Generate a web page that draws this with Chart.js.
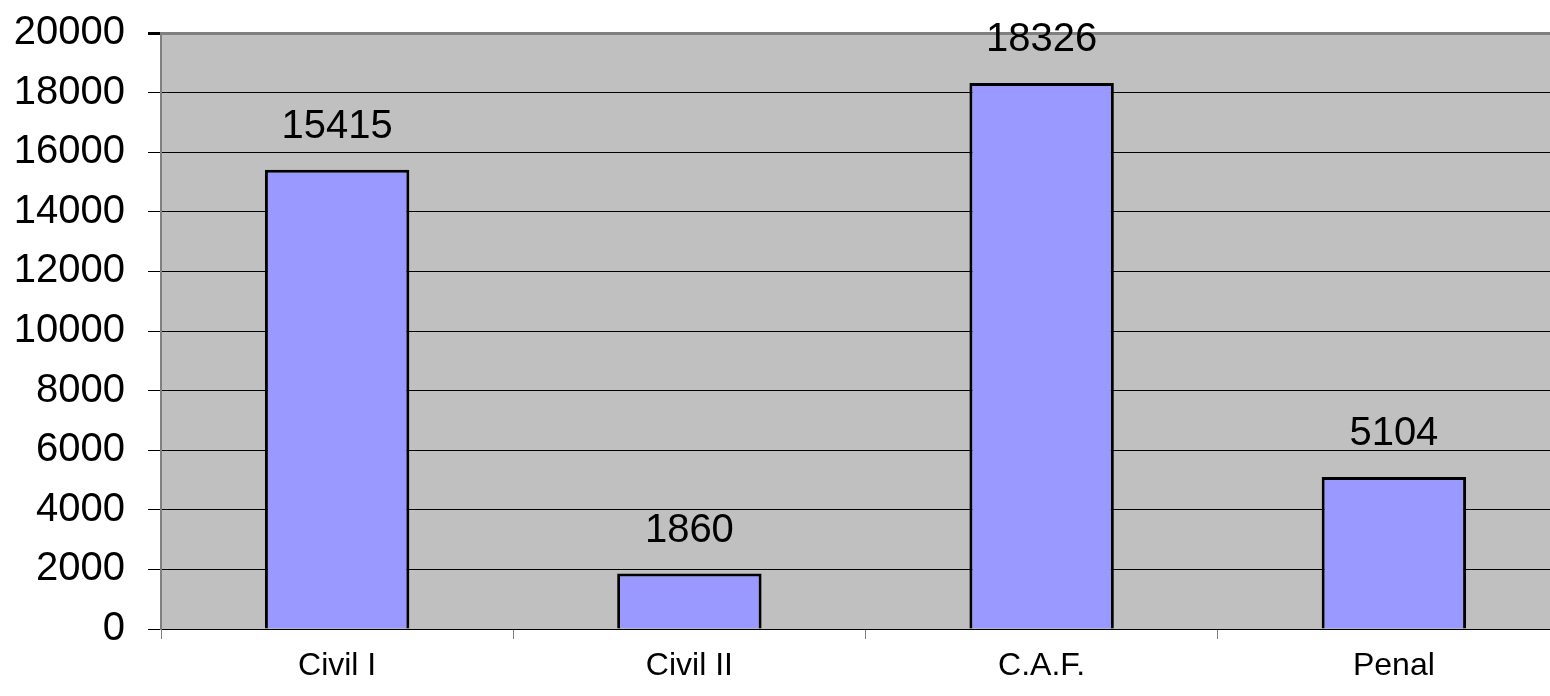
<!DOCTYPE html>
<html>
<head>
<meta charset="utf-8">
<script src="https://cdn.jsdelivr.net/npm/chart.js@4/dist/chart.umd.min.js"></script>
<style>
  html, body { margin: 0; padding: 0; background: #fff; overflow: hidden; }
  #wrap { width: 1550px; height: 696px; overflow: hidden; }
</style>
</head>
<body>
<div id="wrap"><canvas id="chart" width="1570" height="696"></canvas></div>
<script>
const categories = ["Civil I", "Civil II", "C.A.F.", "Penal"];
const values = [15415, 1860, 18326, 5104];
const yTicks = [0, 2000, 4000, 6000, 8000, 10000, 12000, 14000, 16000, 18000, 20000];

const FONT = "'Liberation Sans', Arial, sans-serif";

// grey plot area background
const plotBg = {
  id: "plotBg",
  beforeDraw(chart) {
    const { ctx, chartArea: a } = chart;
    ctx.save();
    ctx.fillStyle = "#c0c0c0";
    ctx.fillRect(a.left, a.top, a.right - a.left, a.bottom - a.top);
    ctx.restore();
  }
};

// value labels above bars
const valueLabels = {
  id: "valueLabels",
  afterDatasetsDraw(chart) {
    const ctx = chart.ctx;
    const meta = chart.getDatasetMeta(0);
    ctx.save();
    ctx.font = "40px " + FONT;
    ctx.fillStyle = "#000";
    ctx.textAlign = "center";
    ctx.textBaseline = "alphabetic";
    meta.data.forEach((bar, i) => {
      ctx.fillText(String(values[i]), bar.x, bar.y - 32);
    });
    ctx.restore();
  }
};

new Chart(document.getElementById("chart"), {
  type: "bar",
  data: {
    labels: categories,
    datasets: [{
      data: values,
      backgroundColor: "#9999ff",
      borderColor: "#000",
      borderWidth: 3,
      barPercentage: 0.41,
      categoryPercentage: 1
    }]
  },
  options: {
    responsive: false,
    animation: false,
    layout: { padding: { top: 33, right: 0, left: 0, bottom: 0 } },
    plugins: { legend: { display: false }, tooltip: { enabled: false } },
    scales: {
      x: {
        offset: true,
        grid: {
          offset: true,
          drawOnChartArea: false,
          drawTicks: true,
          tickLength: 10,
          tickColor: "#808080",
          lineWidth: 1
        },
        border: { display: false },
        ticks: {
          color: "#000",
          padding: 8,
          font: { family: FONT, size: 32 }
        },
        afterFit: (s) => { s.height = 67; s.paddingLeft = 0; s.paddingRight = 0; }
      },
      y: {
        min: 0,
        max: 20000,
        afterBuildTicks: (s) => { s.ticks = yTicks.map(v => ({ value: v })); },
        grid: {
          color: (c) => c.tick && c.tick.value === 20000 ? "#808080" : "#000",
          lineWidth: (c) => c.tick && c.tick.value === 20000 ? 3 : 1,
          tickColor: "#000",
          tickLength: 13
        },
        border: { color: "#808080", width: 2 },
        ticks: {
          color: "#000",
          padding: 23,
          font: { family: FONT, size: 40 },
          callback: (v) => String(v)
        },
        afterFit: (s) => { s.width = 161; s.paddingTop = 0; s.paddingBottom = 0; }
      }
    }
  },
  plugins: [plotBg, valueLabels]
});
</script>
</body>
</html>
